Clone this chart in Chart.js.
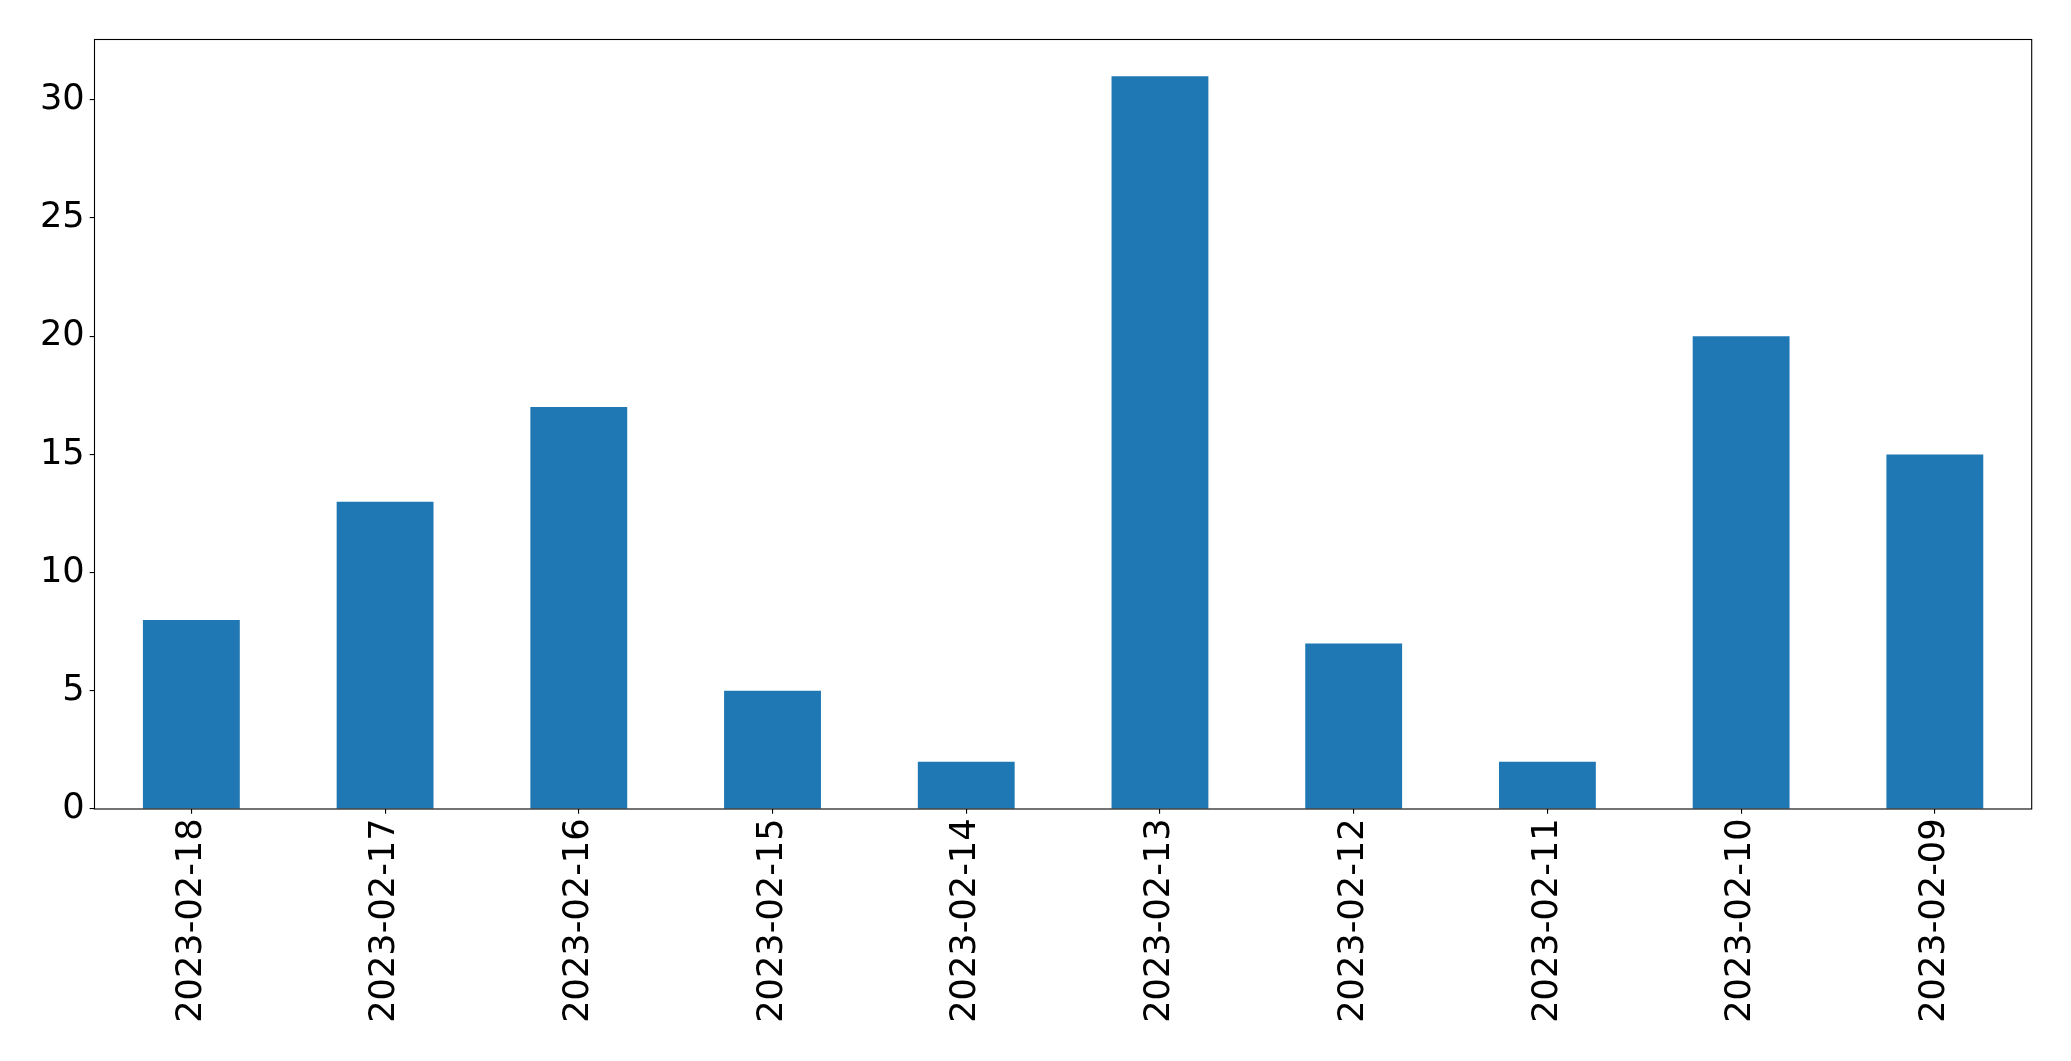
<!DOCTYPE html>
<html>
<head>
<meta charset="utf-8">
<script src="https://cdn.jsdelivr.net/npm/chart.js@4"></script>
<style>
  html, body { margin: 0; padding: 0; background: #fff; }
  canvas { display: block; }
</style>
</head>
<body>
<canvas id="barChart" width="2071" height="1061"></canvas>
<script>
// Data
const dates = ['2023-02-18', '2023-02-17', '2023-02-16', '2023-02-15', '2023-02-14',
               '2023-02-13', '2023-02-12', '2023-02-11', '2023-02-10', '2023-02-09'];
const counts = [8, 13, 17, 5, 2, 31, 7, 2, 20, 15];
const yTicks = [0, 5, 10, 15, 20, 25, 30];

const yMax = Math.max(...counts) * 1.05;
const tickFont = { family: 'DejaVu Sans', size: 35.2 };
const tickLen = 4.86;

// matplotlib-style frame around the plot area
const frame = {
    id: 'frame',
    afterDatasetsDraw(chart) {
        const a = chart.chartArea;
        const ctx = chart.ctx;
        ctx.save();
        ctx.strokeStyle = '#000';
        ctx.lineWidth = 1.1;
        ctx.strokeRect(a.left, a.top, a.right - a.left, a.bottom - a.top);
        ctx.restore();
    }
};

new Chart('barChart', {
    type: 'bar',
    data: {
        labels: dates,
        datasets: [{
            data: counts,
            backgroundColor: '#1f77b4',
            borderWidth: 0,
            barPercentage: 0.5,
            categoryPercentage: 1.0
        }]
    },
    options: {
        responsive: false,
        animation: false,
        devicePixelRatio: 1,
        layout: { padding: { top: 39.5, right: 39.3, left: 0, bottom: 0 } },
        plugins: { legend: { display: false }, tooltip: { enabled: false } },
        scales: {
            x: {
                offset: true,
                grid: { offset: false, drawOnChartArea: false, tickLength: tickLen, color: '#000', lineWidth: 1.1 },
                border: { display: false },
                ticks: { color: '#000', font: tickFont, padding: 4.5, minRotation: 90, maxRotation: 90, autoSkip: false },
                afterFit(scale) { scale.height = 252; }
            },
            y: {
                min: 0,
                max: yMax,
                grid: { drawOnChartArea: false, tickLength: tickLen, color: '#000', lineWidth: 1.1 },
                border: { display: false },
                afterBuildTicks(scale) { scale.ticks = yTicks.map(v => ({ value: v })); },
                ticks: { color: '#000', font: tickFont, padding: 4.9 },
                afterFit(scale) { scale.width = 94.5; }
            }
        }
    },
    plugins: [frame]
});
</script>
</body>
</html>
